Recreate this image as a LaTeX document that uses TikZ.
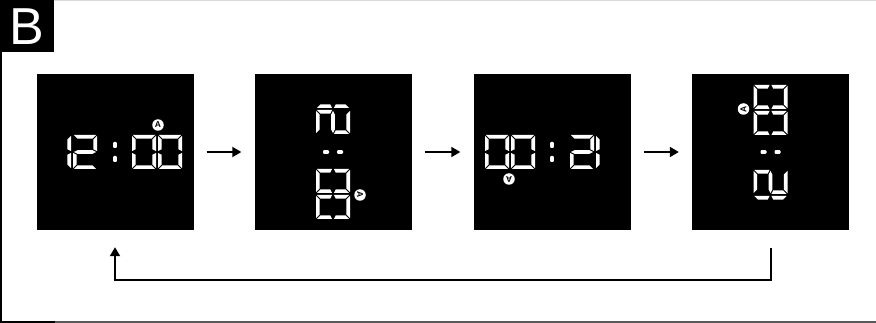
\documentclass[tikz,border=0pt]{standalone}
\usepackage{fontspec}
\setmainfont{Liberation Sans}
\usetikzlibrary{arrows.meta,positioning,calc}
% seven segment sizes (pt)
\newcommand{\dgw}{24}
\newcommand{\dgh}{34}
\newcommand{\dgt}{3.6}
\newcommand{\dgg}{0.9}
\tikzset{
  panel/.style    = {fill=black, minimum width=157pt, minimum height=156pt, inner sep=0pt},
  seg/.style      = {fill=white, draw=none},
  flow/.style     = {-{Triangle[length=9pt,width=10pt]}, line width=2pt,
                     shorten <=13pt, shorten >=13pt},
  back/.style     = {-{Triangle[length=9pt,width=10pt]}, line width=2pt},
  amark/.style    = {circle, fill=white, inner sep=0pt, minimum size=11.5pt,
                     font=\bfseries\fontsize{8.5}{8.5}\selectfont, text=black},
  tag/.style      = {fill=black, text=white, minimum width=54pt, minimum height=52pt,
                     inner sep=0pt, anchor=north west, font=\fontsize{52}{52}\selectfont},
}
\newcommand{\segA}{\fill[seg] (\dgg,0) -- (\dgw-\dgg,0) -- (\dgw-\dgg-\dgt,\dgt) -- (\dgg+\dgt,\dgt) -- cycle;}
\newcommand{\segD}{\fill[seg] (\dgg,\dgh) -- (\dgw-\dgg,\dgh) -- (\dgw-\dgg-\dgt,\dgh-\dgt) -- (\dgg+\dgt,\dgh-\dgt) -- cycle;}
\newcommand{\segG}{\fill[seg] (\dgg,\dgh/2) -- (\dgg+\dgt,\dgh/2-\dgt/2) -- (\dgw-\dgg-\dgt,\dgh/2-\dgt/2)
  -- (\dgw-\dgg,\dgh/2) -- (\dgw-\dgg-\dgt,\dgh/2+\dgt/2) -- (\dgg+\dgt,\dgh/2+\dgt/2) -- cycle;}
\newcommand{\segF}{\fill[seg] (0,\dgg) -- (\dgt,\dgg+\dgt) -- (\dgt,\dgh/2-\dgg-\dgt/2) -- (0,\dgh/2-\dgg) -- cycle;}
\newcommand{\segE}{\fill[seg] (0,\dgh/2+\dgg) -- (\dgt,\dgh/2+\dgg+\dgt/2) -- (\dgt,\dgh-\dgg-\dgt) -- (0,\dgh-\dgg) -- cycle;}
\newcommand{\segB}{\fill[seg] (\dgw,\dgg) -- (\dgw-\dgt,\dgg+\dgt) -- (\dgw-\dgt,\dgh/2-\dgg-\dgt/2) -- (\dgw,\dgh/2-\dgg) -- cycle;}
\newcommand{\segC}{\fill[seg] (\dgw,\dgh/2+\dgg) -- (\dgw-\dgt,\dgh/2+\dgg+\dgt/2) -- (\dgw-\dgt,\dgh-\dgg-\dgt) -- (\dgw,\dgh-\dgg) -- cycle;}
\newcommand{\digit}[3]{%
  \begin{scope}[shift={(#1,#2)}]
    \foreach \s in {#3}{\csname seg\s\endcsname}
  \end{scope}}
% the face "12:00" with its A mark, centred on the colon
\newcommand{\clockface}[1]{%
  \digit{-68}{-17}{B,C}
  \digit{-42}{-17}{A,B,G,E,D}
  \fill[seg, rounded corners=1pt] (-1.9,-10) rectangle (1.9,-4);
  \fill[seg, rounded corners=1pt] (-1.9,4) rectangle (1.9,10);
  \digit{17}{-17}{A,B,C,D,E,F}
  \digit{43}{-17}{A,B,C,D,E,F}
  \node[amark] (#1a) at (43,-27) {A};}

\begin{document}
\begin{tikzpicture}[x=1pt, y=-1pt]
  \useasboundingbox (0,0) rectangle (876,323);
  % frame
  \draw[line width=1.5pt, black!15] (54,0.75) -- (876,0.75);
  \draw[line width=2pt, black!65] (55,322) -- (876,322);
  \draw[line width=2pt] (1,52) -- (1,322) -- (55,322);
  \node[tag] (lbl) at (0,0) {B};
  % displays
  \node[panel] (p1) at (115,152) {};
  \node[panel] (p2) at (333,152) {};
  \node[panel] (p3) at (552,152) {};
  \node[panel] (p4) at (770.5,152) {};
  \begin{scope}[shift={(p1.center)}, transform shape]
    \clockface{p1}
  \end{scope}
  \begin{scope}[shift={(p2.center)}, rotate=-90, transform shape]
    \clockface{p2}
  \end{scope}
  \begin{scope}[shift={(p3.center)}, rotate=180, transform shape]
    \clockface{p3}
  \end{scope}
  \begin{scope}[shift={(p4.center)}, rotate=90, transform shape]
    \clockface{p4}
  \end{scope}
  % arrows
  \draw[flow] (p1) -- (p2);
  \draw[flow] (p2) -- (p3);
  \draw[flow] (p3) -- (p4);
  \coordinate (fb4) at ($(p4.south)+(0,18)$);
  \coordinate (fb1) at ($(p1.south)+(0,17)$);
  \draw[back] (fb4) -- ++(0,32) -| (fb1);
\end{tikzpicture}
\end{document}
